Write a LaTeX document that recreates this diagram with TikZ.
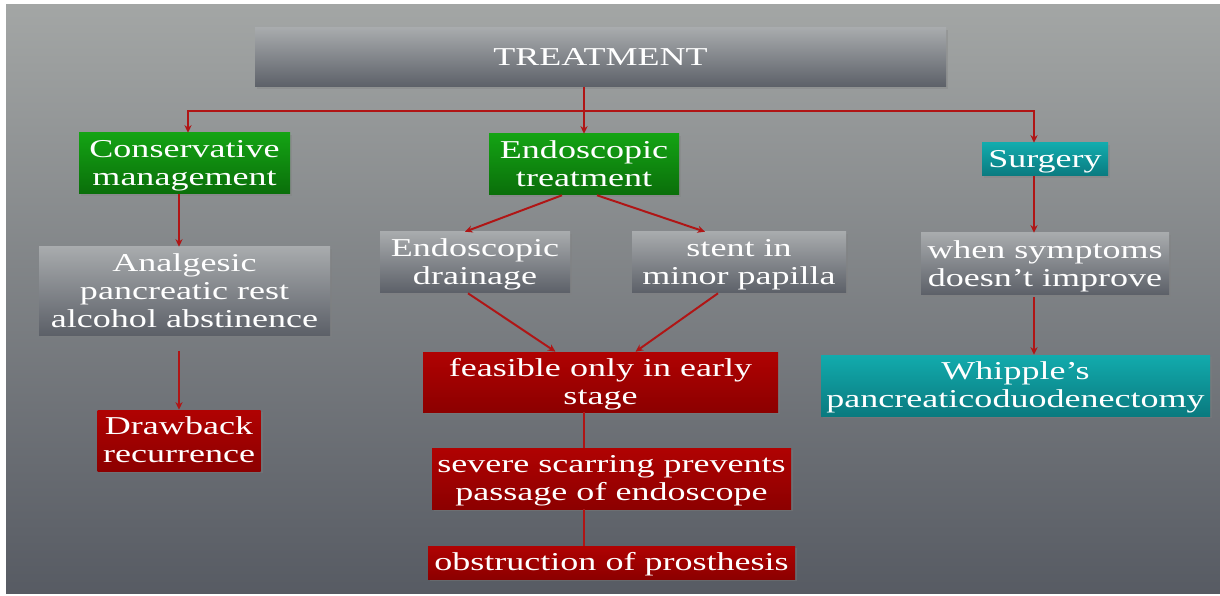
\documentclass[tikz,border=0pt]{standalone}
\usepackage{fontspec}
\setmainfont{Liberation Serif}[FakeStretch=1.4]
\usepackage{tikz}
\usetikzlibrary{arrows.meta, positioning, calc, shadings, shadows}
\definecolor{slideTop}{HTML}{A3A6A5}
\definecolor{slideBottom}{HTML}{575B63}
\definecolor{boxTop}{HTML}{A8ABAD}
\definecolor{boxBottom}{HTML}{5C6068}
\definecolor{greenTop}{HTML}{14A314}
\definecolor{greenBottom}{HTML}{0A6E0A}
\definecolor{redTop}{HTML}{B00202}
\definecolor{redBottom}{HTML}{8C0000}
\definecolor{tealTop}{HTML}{12ABAD}
\definecolor{tealBottom}{HTML}{0A7A7F}
\definecolor{linkRed}{HTML}{B01515}

\begin{document}
\begin{tikzpicture}[
  x=0.025cm, y=-0.025cm,
  font=\fontsize{18.3}{20}\selectfont,
  base/.style={text=white, align=center, inner sep=0pt, text depth=1pt,
               drop shadow={opacity=0.35, shadow xshift=1.5pt, shadow yshift=-1.5pt}},
  grey/.style={base, top color=boxTop, bottom color=boxBottom},
  green/.style={base, top color=greenTop, bottom color=greenBottom},
  redbox/.style={base, top color=redTop, bottom color=redBottom},
  teal/.style={base, top color=tealTop, bottom color=tealBottom},
  link/.style={draw=linkRed, line width=1.4pt},
  a/.style={link, -{Stealth[length=1.9mm, width=1.8mm]}}
]
\useasboundingbox (0,0) rectangle (1220,596);
\shade[top color=slideTop, bottom color=slideBottom] (6,5) rectangle (1220,593);

% top level
\node[grey, minimum width=691*0.025cm, minimum height=59*0.025cm] (treat) at (600.5,57.5) {TREATMENT};
\node[green, minimum width=211*0.025cm, minimum height=61*0.025cm] (cons) at (184.5,163.5) {Conservative\\management};
\node[green, minimum width=190*0.025cm, minimum height=61*0.025cm] (endo) at (584,164.5) {Endoscopic\\treatment};
\node[teal, minimum width=126*0.025cm, minimum height=33*0.025cm] (surg) at (1045,159.5) {Surgery};

% conservative branch
\node[grey, minimum width=291*0.025cm, minimum height=88*0.025cm] (anal) at (184.5,291) {Analgesic\\pancreatic rest\\alcohol abstinence};
\node[redbox, minimum width=163*0.025cm, minimum height=61*0.025cm] (drawb) at (179,440.5) {Drawback\\recurrence};

% endoscopic branch
\node[grey, minimum width=190*0.025cm, minimum height=61*0.025cm] (drain) at (475,262.5) {Endoscopic\\drainage};
\node[grey, minimum width=214*0.025cm, minimum height=61*0.025cm] (stent) at (739,262.5) {stent in\\minor papilla};
\node[redbox, minimum width=355*0.025cm, minimum height=60*0.025cm] (feas) at (600.5,382) {feasible only in early\\stage};
\node[redbox, minimum width=359*0.025cm, minimum height=61*0.025cm] (scar) at (611.5,478.5) {severe scarring prevents\\passage of endoscope};
\node[redbox, minimum width=367*0.025cm, minimum height=33*0.025cm] (obst) at (611.5,562.5) {obstruction of prosthesis};

% surgery branch
\node[grey, minimum width=248*0.025cm, minimum height=62*0.025cm] (symp) at (1045,264) {when symptoms\\doesn’t improve};
\node[teal, minimum width=389*0.025cm, minimum height=61*0.025cm] (whip) at (1015.5,385.5) {Whipple’s\\pancreaticoduodenectomy};

% bus
\coordinate (busL) at (188,111);
\coordinate (busM) at (584,111);
\coordinate (busR) at (1034,111);

\draw[a] (busM |- treat.south) -- (endo.north);
\draw[a] (busM) -- (busL) -- (busL |- cons.north);
\draw[a] (busM) -- (busR) -- (busR |- surg.north);

\draw[a] (drawb.north |- cons.south) -- (drawb.north |- anal.north);
\draw[a, shorten <=11pt] (drawb.north |- anal.south) -- (drawb.north);

\draw[a] ($(endo.south)+(-22,0)$) -- ($(drain.north)+(-10,0)$);
\draw[a] ($(endo.south)+(13,0)$) -- ($(stent.north)+(-34,0)$);
\draw[a] ($(drain.south)+(-7,0)$) -- ($(feas.north)+(-45,0)$);
\draw[a] ($(stent.south)+(-21,0)$) -- ($(feas.north)+(35,0)$);
\draw[link] (busM |- feas.south) -- (busM |- scar.north);
\draw[link] (busM |- scar.south) -- (busM |- obst.north);

\draw[a] (busR |- surg.south) -- (busR |- symp.north);
\draw[a, shorten <=1.5pt] (busR |- symp.south) -- (busR |- whip.north);
\end{tikzpicture}
\end{document}
